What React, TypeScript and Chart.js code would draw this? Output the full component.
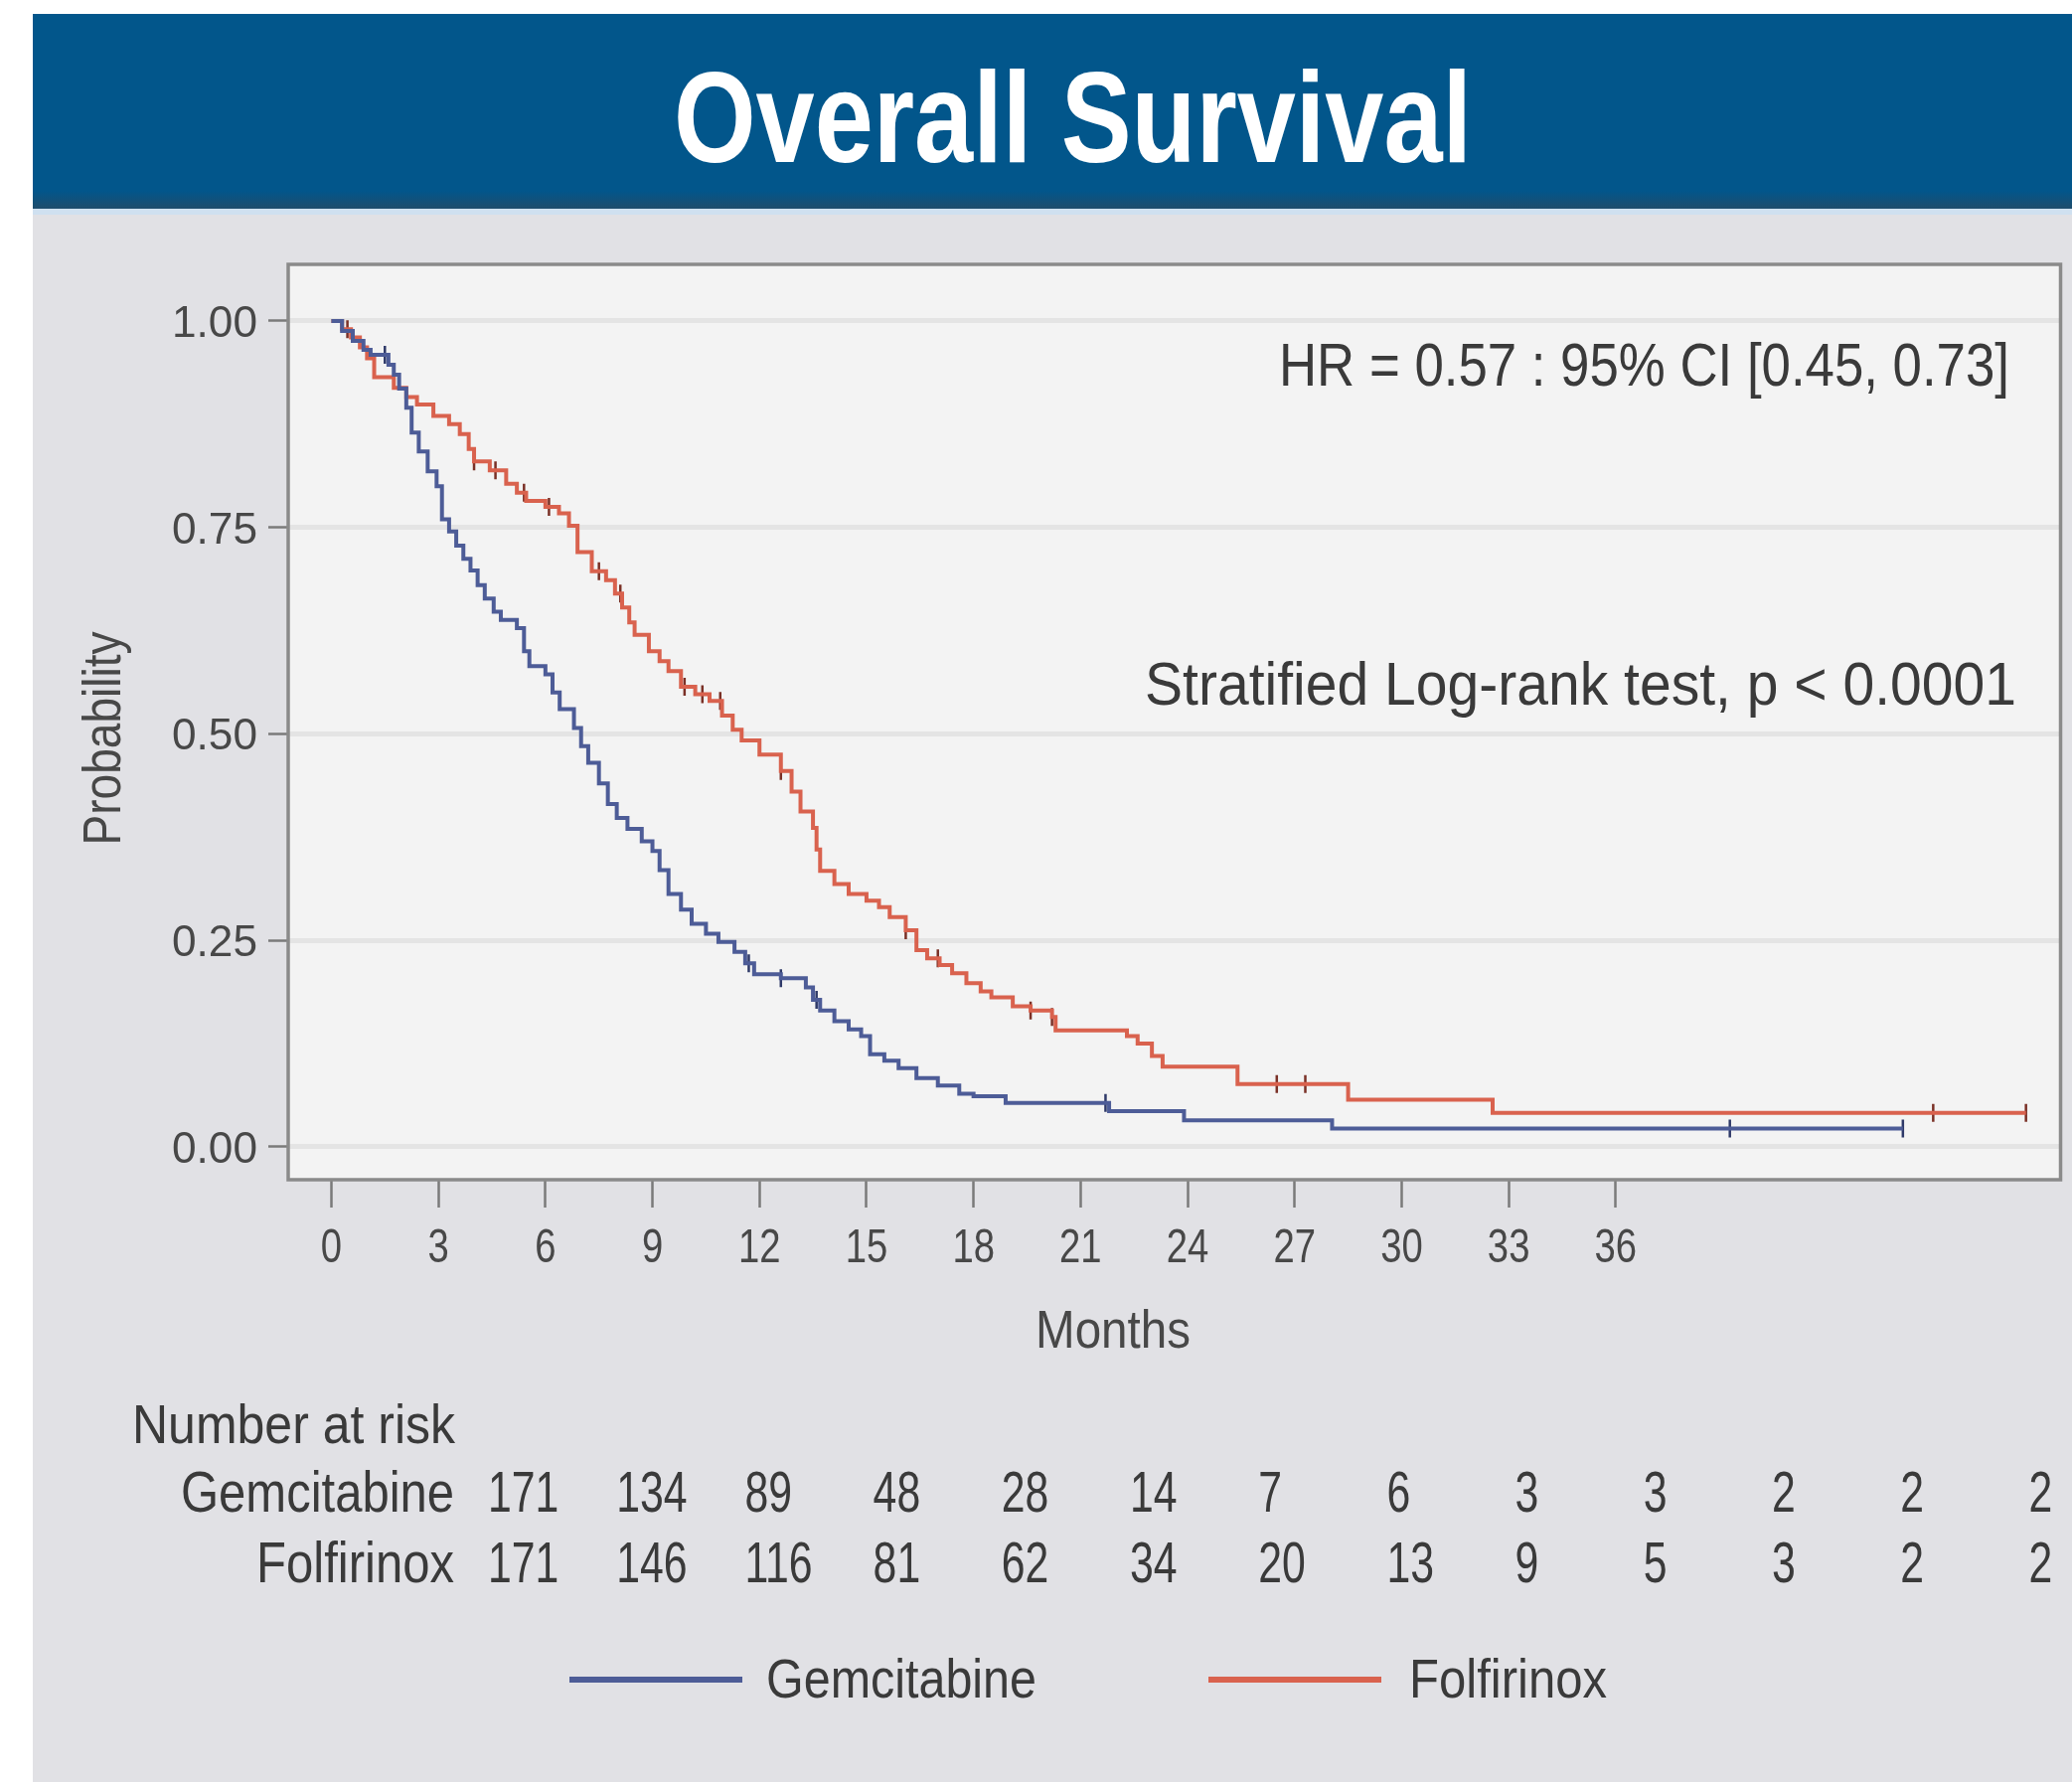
import React, { useEffect, useRef } from 'react';
import { Chart, registerables } from 'chart.js';

Chart.register(...registerables);

// ---------- data ----------
const seriesNames = ['Gemcitabine', 'Folfirinox'];
const monthTicks = [0, 3, 6, 9, 12, 15, 18, 21, 24, 27, 30, 33, 36];
const probTicks = [0, 0.25, 0.5, 0.75, 1];

const gemTimes = [0, 0.3, 0.6, 0.9, 1.1, 1.6, 1.75, 1.9, 2.1, 2.25, 2.45, 2.7, 2.95, 3.1, 3.3, 3.5, 3.7, 3.9, 4.1, 4.3, 4.55, 4.75, 5.2, 5.4, 5.55, 6.0, 6.2, 6.4, 6.8, 7.0, 7.2, 7.5, 7.75, 8.0, 8.3, 8.7, 9.0, 9.2, 9.45, 9.8, 10.1, 10.5, 10.85, 11.3, 11.6, 11.85, 12.6, 13.3, 13.5, 13.7, 14.1, 14.5, 14.85, 15.1, 15.5, 15.9, 16.4, 17.0, 17.6, 18.0, 18.9, 21.8, 23.9, 28.05, 44.05];
const gemSurv = [1.0, 0.988, 0.976, 0.965, 0.959, 0.947, 0.935, 0.918, 0.895, 0.865, 0.842, 0.818, 0.8, 0.76, 0.745, 0.728, 0.712, 0.698, 0.68, 0.664, 0.648, 0.638, 0.628, 0.6, 0.582, 0.572, 0.55, 0.53, 0.507, 0.485, 0.465, 0.44, 0.415, 0.398, 0.385, 0.37, 0.358, 0.335, 0.306, 0.287, 0.27, 0.258, 0.248, 0.236, 0.222, 0.209, 0.204, 0.193, 0.178, 0.165, 0.152, 0.142, 0.134, 0.112, 0.104, 0.095, 0.083, 0.074, 0.064, 0.061, 0.053, 0.043, 0.032, 0.022, 0.022];

const folTimes = [0, 0.3, 0.55, 0.8, 1.0, 1.2, 1.75, 2.1, 2.4, 2.86, 3.3, 3.6, 3.85, 4.0, 4.44, 4.9, 5.2, 5.46, 6.0, 6.38, 6.66, 6.9, 7.3, 7.7, 7.95, 8.15, 8.35, 8.5, 8.9, 9.2, 9.45, 9.8, 10.2, 10.6, 10.95, 11.25, 11.5, 12.0, 12.6, 12.9, 13.15, 13.5, 13.6, 13.7, 14.1, 14.5, 15.0, 15.35, 15.65, 16.1, 16.4, 16.7, 17.05, 17.4, 17.8, 18.2, 18.5, 19.1, 19.6, 20.2, 20.3, 22.3, 22.6, 23.0, 23.3, 25.4, 28.5, 32.55, 47.5];
const folSurv = [1.0, 0.99, 0.98, 0.968, 0.955, 0.932, 0.919, 0.908, 0.899, 0.885, 0.875, 0.863, 0.845, 0.83, 0.819, 0.803, 0.792, 0.782, 0.775, 0.767, 0.752, 0.72, 0.697, 0.686, 0.67, 0.653, 0.635, 0.62, 0.6, 0.588, 0.576, 0.557, 0.548, 0.54, 0.522, 0.505, 0.492, 0.475, 0.455, 0.43, 0.406, 0.386, 0.36, 0.334, 0.318, 0.306, 0.298, 0.29, 0.278, 0.262, 0.238, 0.228, 0.22, 0.21, 0.198, 0.188, 0.181, 0.17, 0.165, 0.157, 0.141, 0.134, 0.125, 0.11, 0.097, 0.076, 0.057, 0.041, 0.041];

const gemCensor = [1.5, 11.7, 12.6, 13.6, 21.7, 39.2, 44.05];
const folCensor = [0.45, 4.0, 4.6, 5.4, 6.1, 7.5, 8.1, 9.9, 10.4, 10.9, 12.6, 16.1, 17.0, 19.6, 20.2, 26.5, 27.3, 44.9, 47.5];

const riskGem = [171, 134, 89, 48, 28, 14, 7, 6, 3, 3, 2, 2, 2];
const riskFol = [171, 146, 116, 81, 62, 34, 20, 13, 9, 5, 3, 2, 2];

const titleText = 'Overall Survival';
const hrText = 'HR = 0.57 : 95% CI [0.45, 0.73]';
const testText = 'Stratified Log-rank test, p < 0.0001';

// ---------- styling ----------
const GEM_COLOR = '#4d5c97';
const FOL_COLOR = '#d9624e';
const GEM_CENSOR = '#2e3968';
const FOL_CENSOR = '#7a3026';
const FAMILY = "'Liberation Sans', Arial, Helvetica, sans-serif";
const TEXT_DARK = '#3a3a3a';
const TICK_TEXT = '#484848';

const toPoints = (times: number[], surv: number[]) => times.map((t, i) => ({ x: t, y: surv[i] }));
const survAt = (times: number[], surv: number[], t: number) => {
  let v = surv[0];
  for (let i = 0; i < times.length; i++) if (times[i] <= t) v = surv[i];
  return v;
};

type TextOpts = {
  size: number;
  color: string;
  weight?: string;
  align?: 'left' | 'right' | 'center';
  width?: number;
  sx?: number;
  baseline?: CanvasTextBaseline;
};

function fitText(ctx: CanvasRenderingContext2D, text: string, x: number, y: number, o: TextOpts) {
  ctx.save();
  ctx.font = `${o.weight || 'normal'} ${o.size}px ${FAMILY}`;
  ctx.fillStyle = o.color;
  ctx.textBaseline = o.baseline || 'alphabetic';
  ctx.textAlign = 'left';
  const w = ctx.measureText(text).width;
  const sx = o.width ? o.width / w : o.sx || 1;
  const drawn = w * sx;
  let left = x;
  if (o.align === 'right') left = x - drawn;
  else if (o.align === 'center') left = x - drawn / 2;
  ctx.translate(left, y);
  ctx.scale(sx, 1);
  ctx.fillText(text, 0, 0);
  ctx.restore();
}

const decorPlugin = {
  id: 'decor',
  beforeDraw(chart: any) {
    const { ctx, chartArea: a, width, height } = chart;
    ctx.save();
    ctx.fillStyle = '#ffffff';
    ctx.fillRect(0, 0, width, height);
    ctx.fillStyle = '#e1e1e5';
    ctx.fillRect(33, 210, width - 33, height - 210);
    ctx.fillStyle = '#02568b';
    ctx.fillRect(33, 14, width - 33, 196);
    const g = ctx.createLinearGradient(0, 192, 0, 210);
    g.addColorStop(0, '#02568b');
    g.addColorStop(1, '#1f4d6c');
    ctx.fillStyle = g;
    ctx.fillRect(33, 192, width - 33, 18);
    ctx.fillStyle = '#cfe0f0';
    ctx.fillRect(33, 210, width - 33, 6);
    ctx.fillStyle = '#f3f3f3';
    ctx.fillRect(a.left, a.top, a.right - a.left, a.bottom - a.top);
    ctx.restore();
  },
  afterDraw(chart: any) {
    const { ctx, chartArea: a } = chart;
    const xs = chart.scales.x;
    const ys = chart.scales.y;
    ctx.save();
    // plot frame
    ctx.strokeStyle = '#8a8a8a';
    ctx.lineWidth = 3.5;
    ctx.strokeRect(a.left, a.top, a.right - a.left, a.bottom - a.top);

    // title
    fitText(ctx, titleText, 678, 163, { size: 130, weight: 'bold', color: '#ffffff', width: 803 });

    // annotations
    fitText(ctx, hrText, 2022, 388, { size: 62, color: TEXT_DARK, align: 'right', width: 735 });
    fitText(ctx, testText, 2029, 709, { size: 62, color: TEXT_DARK, align: 'right', width: 877 });

    // y tick labels
    probTicks.forEach((v) => {
      fitText(ctx, v.toFixed(2), 259, ys.getPixelForValue(v) + 16, { size: 44, color: TICK_TEXT, align: 'right', width: 86 });
    });
    // x tick labels
    monthTicks.forEach((v) => {
      fitText(ctx, String(v), xs.getPixelForValue(v), 1270, { size: 49, color: TICK_TEXT, align: 'center', sx: 0.78 });
    });
    // axis titles
    fitText(ctx, 'Months', 1120, 1356, { size: 54, color: TICK_TEXT, align: 'center', width: 156 });
    ctx.save();
    ctx.translate(106, 743);
    ctx.rotate(-Math.PI / 2);
    fitText(ctx, 'Probability', 0, 0, { size: 54, color: TICK_TEXT, align: 'center', width: 215, baseline: 'middle' });
    ctx.restore();

    // number at risk table
    fitText(ctx, 'Number at risk', 133, 1452, { size: 56, color: TEXT_DARK, width: 325 });
    fitText(ctx, seriesNames[0], 457, 1521, { size: 57, color: TEXT_DARK, align: 'right', width: 275 });
    fitText(ctx, seriesNames[1], 457, 1592, { size: 57, color: TEXT_DARK, align: 'right', width: 199 });
    const col0 = 491;
    const colStep = 129.2;
    riskGem.forEach((n, i) => fitText(ctx, String(n), col0 + colStep * i, 1521, { size: 57, color: TEXT_DARK, sx: 0.75 }));
    riskFol.forEach((n, i) => fitText(ctx, String(n), col0 + colStep * i, 1592, { size: 57, color: TEXT_DARK, sx: 0.75 }));

    // legend
    const legendItems = [
      { x0: 573, x1: 747, tx: 771, tw: 272 },
      { x0: 1216, x1: 1390, tx: 1418, tw: 199 },
    ];
    legendItems.forEach((it, i) => {
      const ds = chart.data.datasets[i];
      ctx.strokeStyle = ds.borderColor;
      ctx.lineWidth = 6;
      ctx.lineCap = 'butt';
      ctx.beginPath();
      ctx.moveTo(it.x0, 1690);
      ctx.lineTo(it.x1, 1690);
      ctx.stroke();
      fitText(ctx, ds.label, it.tx, 1708, { size: 56, color: TEXT_DARK, width: it.tw });
    });
    ctx.restore();
  },
};

export default function App() {
  const canvasRef = useRef<HTMLCanvasElement | null>(null);

  useEffect(() => {
    const canvas = canvasRef.current;
    if (!canvas) return;
    const chart = new Chart(canvas, {
      type: 'line',
      data: {
        datasets: [
          {
            label: seriesNames[0],
            data: toPoints(gemTimes, gemSurv),
            borderColor: GEM_COLOR,
            borderWidth: 4,
            stepped: 'before',
            pointRadius: 0,
            fill: false,
          },
          {
            label: seriesNames[1],
            data: toPoints(folTimes, folSurv),
            borderColor: FOL_COLOR,
            borderWidth: 4,
            stepped: 'before',
            pointRadius: 0,
            fill: false,
          },
          {
            type: 'scatter',
            label: 'Gemcitabine censored',
            data: gemCensor.map((t) => ({ x: t, y: survAt(gemTimes, gemSurv, t) })),
            pointStyle: 'line',
            rotation: 90,
            pointRadius: 9,
            borderColor: GEM_CENSOR,
            borderWidth: 2.5,
            showLine: false,
          } as any,
          {
            type: 'scatter',
            label: 'Folfirinox censored',
            data: folCensor.map((t) => ({ x: t, y: survAt(folTimes, folSurv, t) })),
            pointStyle: 'line',
            rotation: 90,
            pointRadius: 9,
            borderColor: FOL_CENSOR,
            borderWidth: 2.5,
            showLine: false,
          } as any,
        ],
      },
      options: {
        animation: false,
        responsive: false,
        devicePixelRatio: 1,
        layout: { padding: { left: 290, top: 266, right: 8, bottom: 606 } },
        plugins: {
          legend: { display: false },
          tooltip: { enabled: false },
          title: { display: false },
        },
        scales: {
          x: {
            type: 'linear',
            min: -1.21,
            max: 48.47,
            afterBuildTicks: (s: any) => {
              s.ticks = monthTicks.map((v) => ({ value: v }));
            },
            afterFit: (s: any) => {
              s.height = 0;
            },
            ticks: { display: false },
            grid: {
              drawOnChartArea: false,
              drawTicks: true,
              tickLength: 28,
              tickColor: '#7a7a7a',
              tickWidth: 2.5,
            },
            border: { display: false },
          },
          y: {
            type: 'linear',
            min: -0.04,
            max: 1.0686,
            afterBuildTicks: (s: any) => {
              s.ticks = probTicks.map((v) => ({ value: v }));
            },
            afterFit: (s: any) => {
              s.width = 0;
            },
            ticks: { display: false },
            grid: {
              color: '#e4e4e4',
              lineWidth: 5,
              tickLength: 20,
              tickColor: '#7a7a7a',
              tickWidth: 2.5,
            },
            border: { display: false },
          },
        },
      } as any,
      plugins: [decorPlugin],
    });
    return () => chart.destroy();
  }, []);

  return (
    <div style={{ position: 'absolute', left: 0, top: 0, width: 2085, height: 1793 }}>
      <canvas ref={canvasRef} width={2085} height={1793} style={{ display: 'block', width: 2085, height: 1793 }} />
    </div>
  );
}
